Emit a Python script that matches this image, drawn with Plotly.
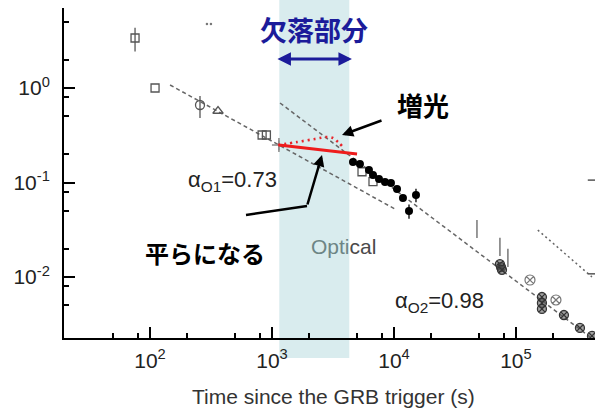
import math
import plotly.graph_objects as go

# ---------------- observations: time since trigger (s), optical flux ----------------
sq_t = [75.4, 110, 830, 900]
sq_f = [3.38, 1.0, 0.318, 0.318]
sq_err = [0.95, 0.0, 0.0, 0.0]

circ_t = [257]
circ_f = [0.661]
circ_err_plus = [0.16]
circ_err_minus = [0.18]

tri_t = [361]
tri_f = [0.571]

cross_t = [1140]
cross_f = [0.249]
cross_err = [0.03]

top_t = [293, 316]
top_f = [4.76, 4.76]

dot_t = [4613, 5260, 6237, 6730, 7536, 8440, 9445, 10590, 11850, 13280, 15150]
dot_f = [0.165, 0.157, 0.136, 0.120, 0.109, 0.101, 0.0988, 0.0854, 0.0686, 0.0499, 0.0737]
dot_err = [0, 0, 0, 0, 0, 0, 0, 0, 0, 0.0085, 0.012]

osq_t = [5470, 6730]
osq_f = [0.130, 0.102]

late_t = [73900, 75500, 76800, 163300, 163300, 163300, 247400, 334700, 420000]
late_f = [0.0137, 0.0127, 0.0119, 0.00614, 0.00531, 0.00459, 0.00396, 0.00289, 0.00238]

ring_t = [130300, 212800]
ring_f = [0.00929, 0.00571]

bar_t = [47900, 73900, 85900]
bar_f = [0.0322, 0.0208, 0.0159]

edge_t = [420000, 420000]
edge_f = [0.106, 0.0108]

# power-law fits (end points)
fit1_t = [146, 10190]
fit1_f = [1.076, 0.0524]
fit2_t = [1164, 404700]
fit2_f = [0.694, 0.00232]
late_fit_t = [151000, 420000]
late_fit_f = [0.0314, 0.0100]

# behaviour inside the missing interval
flat_t = [1140, 4980]
flat_f = [0.249, 0.200]
bright_t = [1120, 1603, 2250, 2824, 3160, 3475, 3820]
bright_f = [0.249, 0.268, 0.289, 0.303, 0.296, 0.268, 0.238]

gap_t = [1148, 4303]

x_ticks = [1e2, 1e3, 1e4, 1e5]
x_ticktext = ["10<sup>2</sup>", "10<sup>3</sup>", "10<sup>4</sup>", "10<sup>5</sup>"]
y_ticks = [1e-2, 1e-1, 1e0]
y_ticktext = ["10<sup>-2</sup>", "10<sup>-1</sup>", "10<sup>0</sup>"]

# ---------------- layout geometry ----------------
W, H = 595, 415
ML, MR, MT, MB = 64, 0, 8, 77
XR = [1.295, 5.648]
YR = [-2.6455, 0.8466]
PW, PH = W - ML - MR, H - MT - MB


def px(x):
    return (x - ML) / PW


def py(y):
    return (H - MB - y) / PH


def tx(t):
    return (math.log10(t) - XR[0]) / (XR[1] - XR[0])


FONT = "Liberation Sans, Arial, sans-serif"
CJK = "Noto Sans CJK JP, sans-serif"
GREY = "#555555"

minor_x = [m * 10 ** e for e in range(1, 6) for m in (2, 5, 8)]
minor_y = [m * 10 ** e for e in range(-3, 1) for m in (2, 5, 8)]

fig = go.Figure()

# fitted decays
fig.add_trace(go.Scatter(x=fit1_t, y=fit1_f, mode="lines",
                         line=dict(color="#666", width=1.5, dash="4px,3px")))
fig.add_trace(go.Scatter(x=fit2_t, y=fit2_f, mode="lines",
                         line=dict(color="#666", width=1.5, dash="4px,3px")))
fig.add_trace(go.Scatter(x=late_fit_t, y=late_fit_f, mode="lines",
                         line=dict(color="#666", width=1.5, dash="2px,3px")))

# early data
fig.add_trace(go.Scatter(x=sq_t, y=sq_f, mode="markers",
                         marker=dict(symbol="square-open", size=8, color=GREY, line=dict(width=1.3)),
                         error_y=dict(type="data", array=sq_err, color=GREY, thickness=1.3, width=0)))
fig.add_trace(go.Scatter(x=circ_t, y=circ_f, mode="markers",
                         marker=dict(symbol="circle-open", size=9, color=GREY, line=dict(width=1.3)),
                         error_y=dict(type="data", array=circ_err_plus, arrayminus=circ_err_minus,
                                      color=GREY, thickness=1.3, width=0)))
fig.add_trace(go.Scatter(x=tri_t, y=tri_f, mode="markers",
                         marker=dict(symbol="triangle-up-open", size=9, color=GREY, line=dict(width=1.3))))
fig.add_trace(go.Scatter(x=cross_t, y=cross_f, mode="markers",
                         marker=dict(symbol="cross-thin-open", size=10, color="#888", line=dict(width=1.5, color="#888")),
                         error_y=dict(type="data", array=cross_err, color="#888", thickness=1.3, width=0)))
fig.add_trace(go.Scatter(x=top_t, y=top_f, mode="markers",
                         marker=dict(symbol="circle", size=2.5, color="#777")))

# red: flat and brightening behaviour
fig.add_trace(go.Scatter(x=bright_t, y=bright_f, mode="lines", line_shape="spline",
                         line=dict(color="#e8242a", width=2.6, dash="2px,4px")))
fig.add_trace(go.Scatter(x=flat_t, y=flat_f, mode="lines",
                         line=dict(color="#ee1c1c", width=3)))

# optical follow-up
fig.add_trace(go.Scatter(x=osq_t, y=osq_f, mode="markers",
                         marker=dict(symbol="square-open", size=8, color=GREY, line=dict(width=1.3))))
fig.add_trace(go.Scatter(x=dot_t, y=dot_f, mode="markers",
                         marker=dict(symbol="circle", size=8, color="black"),
                         error_y=dict(type="data", array=dot_err, color="black", thickness=1.3, width=0)))

fig.add_trace(go.Scatter(x=bar_t, y=bar_f, mode="markers",
                         marker=dict(symbol="line-ns-open", size=13, color="#777", line=dict(width=1.5, color="#777"))))
fig.add_trace(go.Scatter(x=edge_t, y=edge_f, mode="markers",
                         marker=dict(symbol="line-ew-open", size=6, color="#555", line=dict(width=1.5, color="#555"))))
fig.add_trace(go.Scatter(x=late_t, y=late_f, mode="markers",
                         marker=dict(symbol="circle-x", size=9, color="rgba(90,90,90,0.55)",
                                     line=dict(width=1.3, color="#333"))))
fig.add_trace(go.Scatter(x=ring_t, y=ring_f, mode="markers",
                         marker=dict(symbol="circle-x-open", size=10, color="#777", line=dict(width=1.2, color="#777"))))

# shaded interval without data
fig.add_shape(type="rect", xref="paper", yref="paper",
              x0=tx(gap_t[0]), x1=tx(gap_t[1]), y0=py(358), y1=py(0),
              fillcolor="#d9ecee", line=dict(width=0), layer="below")

ann = []
ann.append(dict(x=px(314), y=py(30), text="<b>欠落部分</b>", showarrow=False,
                font=dict(family=CJK, size=27, color="#1b1b9a")))
ann.append(dict(x=tx(gap_t[1]) + 0.005, y=py(59), ax=-76, ay=0, text="", showarrow=True,
                arrowside="end+start", arrowhead=2, arrowsize=0.9, arrowwidth=3, arrowcolor="#1b1b9a", standoff=0,
                startstandoff=0, startarrowhead=2, startarrowsize=0.9))
ann.append(dict(x=px(423), y=py(104), text="<b>増光</b>", showarrow=False,
                font=dict(family=CJK, size=26, color="black")))
ann.append(dict(x=px(342), y=py(135), ax=41, ay=-15, text="", showarrow=True,
                arrowhead=2, arrowsize=0.9, arrowwidth=2.5, arrowcolor="black", standoff=0))
ann.append(dict(x=px(205), y=py(252), text="<b>平らになる</b>", showarrow=False,
                font=dict(family=CJK, size=24, color="black")))
ann.append(dict(x=px(322), y=py(155), ax=-15, ay=51, text="", showarrow=True,
                arrowhead=2, arrowsize=0.9, arrowwidth=2.5, arrowcolor="black", standoff=0))
ann.append(dict(x=px(186), y=py(181), xanchor="left", text="α<sub>O1</sub>=0.73", showarrow=False,
                font=dict(family=FONT, size=22, color="#222")))
ann.append(dict(x=px(393), y=py(302), xanchor="left", text="α<sub>O2</sub>=0.98", showarrow=False,
                font=dict(family=FONT, size=22, color="#222")))
ann.append(dict(x=px(343.5), y=py(246),
                text="<span style='color:#6d8585'>Opti</span><span style='color:#4a4a4a'>cal</span>",
                showarrow=False, font=dict(family=FONT, size=21)))
ann.append(dict(x=px(333), y=py(396), text="Time since the GRB trigger (s)", showarrow=False,
                font=dict(family=FONT, size=21, color="#333")))
for a in ann:
    a.setdefault("xref", "paper")
    a.setdefault("yref", "paper")
    a.setdefault("xanchor", "center")
    a.setdefault("yanchor", "middle")
fig.update_layout(annotations=ann)

fig.add_shape(type="line", xref="paper", yref="paper", x0=px(246), y0=py(215), x1=px(307), y1=py(206),
              line=dict(color="black", width=2.5))

axis_common = dict(type="log", showgrid=False, zeroline=False, showline=True, linecolor="black",
                   linewidth=2, ticks="inside", ticklen=11, tickwidth=1.5, tickcolor="black",
                   tickfont=dict(family=FONT, size=21, color="#222"))
fig.update_xaxes(range=XR, tickvals=x_ticks, ticktext=x_ticktext, ticklabelstandoff=3,
                 minor=dict(tickvals=minor_x, ticks="inside", ticklen=5, tickwidth=1.5, tickcolor="black"),
                 **axis_common)
fig.update_yaxes(range=YR, tickvals=y_ticks, ticktext=y_ticktext, ticklabelstandoff=8,
                 minor=dict(tickvals=minor_y, ticks="inside", ticklen=5, tickwidth=1.5, tickcolor="black"),
                 **axis_common)

fig.update_layout(width=W, height=H, margin=dict(l=ML, r=MR, t=MT, b=MB),
                  plot_bgcolor="rgba(0,0,0,0)", paper_bgcolor="white", showlegend=False)

fig.write_html("out.html")
